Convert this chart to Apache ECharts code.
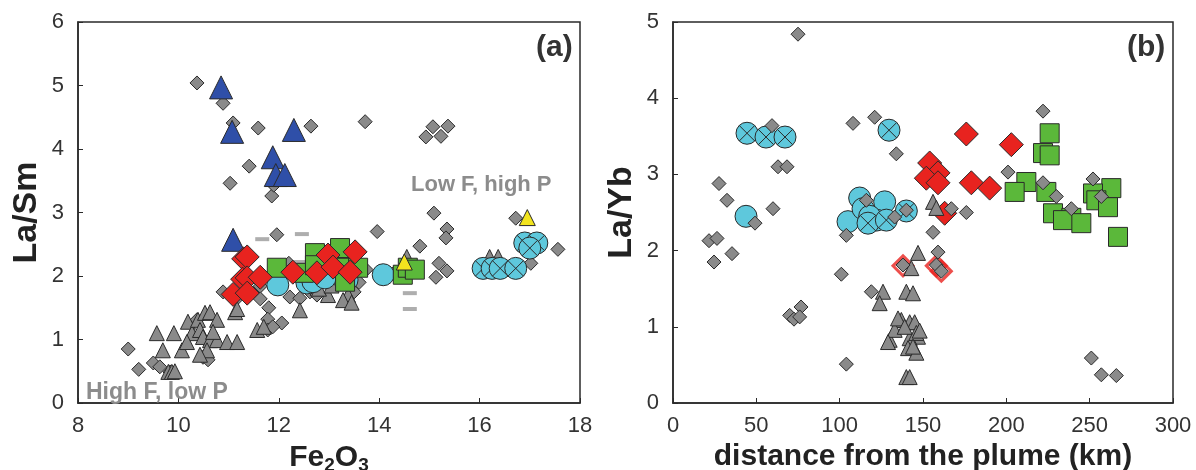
<!DOCTYPE html>
<html>
<head>
<meta charset="utf-8">
<script src="https://cdn.jsdelivr.net/npm/echarts@6/dist/echarts.min.js"></script>
<style>
  html, body { margin: 0; padding: 0; background: #fff; }
  #chart { width: 1196px; height: 470px; }
</style>
</head>
<body>
<div id="chart"></div>
<script>
// panel (a): Fe2O3 vs La/Sm
const aTicksX = [8, 10, 12, 14, 16, 18]
const aGrayDiamond = [
  [10.37,5.04],[10.89,4.72],[11.09,4.41],[11.59,4.33],[12.64,4.36],[11.41,3.73],[11.03,3.46],[11.86,3.26],[11.9,3.43],
  [13.72,4.43],[14.93,4.19],[15.07,4.35],[15.23,4.2],[15.37,4.36],[15.09,2.99],[16.72,2.91],[13.96,2.7],[15.35,2.74],
  [15.33,2.6],[14.81,2.47],[15.19,2.2],[15.35,2.08],[15.13,1.98],[17.02,2.2],[17.56,2.42],[11.96,2.65],
  [9.0,0.85],[9.21,0.53],[9.5,0.63],[9.63,0.57],[9.83,0.49],[10.89,1.75],[11.17,1.65],[11.63,1.84],[11.63,1.64],
  [11.8,1.5],[11.78,1.32],[11.78,1.15],[12.06,1.26],[11.88,1.2],[12.22,1.67],[12.42,1.65],[12.62,1.75],[12.76,1.7],
  [10.49,0.72],[10.59,0.68],[10.37,1.31],[12.2,2.2],[13.5,1.75],[13.6,1.9],[13.74,2.1],[14.3,2.05]
]
const aGrayTriangle = [
  [9.57,1.1],[9.91,1.1],[9.69,0.83],[10.07,0.83],[9.8,0.49],[9.87,0.49],[9.93,0.5],[10.19,1.28],[10.27,1.1],
  [10.17,0.96],[10.39,1.31],[10.43,1.15],[10.53,1.42],[10.63,1.43],[10.77,1.31],[10.49,1.04],[10.63,0.99],
  [10.77,0.99],[10.57,0.83],[10.43,0.76],[10.97,0.96],[11.17,0.96],[11.13,1.43],[10.69,1.12],[11.57,1.15],
  [11.7,1.2],[12.42,1.46],[12.98,1.7],[13.38,1.7],[13.28,1.62],[13.45,1.58],[11.17,1.48],[12.8,1.8],[13.05,1.85],
  [14.55,2.3],[16.2,2.3],[16.37,2.3]
]
const aDash = [[11.67,2.58],[12.46,2.66],[12.42,2.22],[14.61,1.73],[14.61,1.48]]
const aBlueTriangle = [[10.85,4.97],[11.07,4.27],[12.3,4.3],[11.88,3.87],[11.94,3.59],[12.12,3.59],[11.09,2.57]]
const aCyanCircle = [[11.98,1.86],[12.56,1.89],[12.68,1.91],[12.92,1.97],[13.36,1.94],[14.08,2.02]]
const aCyanCross = [[16.07,2.12],[16.25,2.12],[16.41,2.12],[16.72,2.12],[16.9,2.52],[17.14,2.52],[17.0,2.44]]
const aGreenSquare = [
  [11.96,2.13],[12.5,2.05],[12.72,2.36],[12.72,2.17],[13.2,2.25],[13.22,2.44],[13.28,2.13],[13.32,1.91],
  [13.58,2.13],[14.47,2.02],[14.57,2.13],[14.71,2.1]
]
const aYellow = [[14.5,2.22],[16.95,2.92]]
const aRedDiamond = [
  [11.3,2.27],[11.37,2.3],[11.28,1.95],[11.37,1.97],[11.63,1.98],[11.09,1.71],[11.37,1.73],[12.28,2.06],
  [12.76,2.05],[12.98,2.33],[13.08,2.14],[13.52,2.38],[13.42,2.06]
]

// panel (b): distance from the plume vs La/Yb
const bGrayDiamond = [
  [75,4.84],[59.4,3.64],[63,3.1],[68.4,3.1],[27.6,2.88],[32.4,2.66],[60,2.55],[49.2,2.36],[108,3.67],[121,3.75],
  [134,3.27],[116,2.66],[133,2.44],[140,2.53],[21.6,2.13],[26.4,2.16],[24.6,1.85],[35.4,1.96],[104,2.2],[101,1.69],
  [119,1.46],[70,1.15],[72.6,1.1],[76.8,1.26],[76,1.13],[104,0.51],[222,3.83],[201,3.03],[222,2.89],[230,2.71],
  [252,2.94],[257,2.71],[239,2.55],[167,2.55],[176,2.5],[156,2.24],[159,1.98],[251,0.59],[257,0.37],[266,0.36],
  [138,1.81],[158,1.81],[161,1.73]
]
const bRedOutline = [[138,1.8],[158,1.8],[161,1.73]]
const bGrayTriangle = [
  [147,1.97],[143,1.77],[140,1.46],[144,1.44],[137,1.09],[142,1.06],[145,1.06],[147,0.87],[142,0.85],[141,0.72],
  [146,0.66],[140,0.34],[142,0.34],[126,1.46],[124,1.31],[130,0.83],[133,0.96],[135,1.11],[129,0.8],[146,0.92],
  [144,0.74],[148,0.95],[139,1.0],[156,2.64],[158,2.56]
]
const bCyanCircle = [[43.8,2.45],[112,2.69],[127,2.64],[105,2.38],[114,2.55],[122,2.4],[118,2.45]]
const bCyanCross = [[44.4,3.54],[55.8,3.49],[67.2,3.49],[129.6,3.58],[140,2.52],[117,2.36],[128,2.4]]
const bRedDiamond = [[176,3.53],[203,3.39],[154,3.15],[159,3.02],[152,2.95],[159,2.89],[179,2.89],[190,2.82],[163,2.49]]
const bGreenSquare = [
  [226,3.54],[222,3.28],[226,3.25],[212,2.9],[205,2.77],[224,2.77],[263,2.82],[252,2.75],[254,2.66],[261,2.57],
  [228,2.49],[239,2.43],[234,2.4],[245,2.36],[267,2.18]
]

const FONT = '"Liberation Sans", Arial, sans-serif'
const EDGE = '#2a2a2a'
const CROSS_CIRCLE = 'path://M10,0A10,10,0,1,1,10,20A10,10,0,1,1,10,0ZM2.93,2.93L17.07,17.07M17.07,2.93L2.93,17.07'

function pts(data, idx, symbol, size, color, extra) {
  return Object.assign({
    type: 'scatter', xAxisIndex: idx, yAxisIndex: idx, data: data,
    symbol: symbol, symbolSize: size, animation: false,
    itemStyle: { color: color, borderColor: EDGE, borderWidth: 1, opacity: 1 },
    emphasis: { disabled: true }
  }, extra || {})
}

function xAxis(idx, min, max, step, name) {
  return {
    gridIndex: idx, type: 'value', min: min, max: max, interval: step,
    axisLine: { onZero: false, lineStyle: { color: EDGE, width: 1.5 } },
    axisTick: { inside: true, length: 5, lineStyle: { color: EDGE } },
    splitLine: { show: false },
    axisLabel: { fontSize: 22, color: '#333', fontFamily: FONT, margin: 12 },
    name: name, nameLocation: 'middle', nameGap: 38,
    nameTextStyle: {
      fontSize: 30, fontWeight: 'bold', color: '#222', fontFamily: FONT,
      rich: {
        b: { fontSize: 30, fontWeight: 'bold', color: '#222', fontFamily: FONT, lineHeight: 34 },
        s: { fontSize: 19, fontWeight: 'bold', color: '#222', fontFamily: FONT, lineHeight: 16, verticalAlign: 'bottom' }
      }
    }
  }
}

function yAxis(idx, min, max, name) {
  return {
    gridIndex: idx, type: 'value', min: min, max: max, interval: 1,
    axisLine: { onZero: false, lineStyle: { color: EDGE, width: 1.5 } },
    axisTick: { inside: true, length: 5, lineStyle: { color: EDGE } },
    splitLine: { show: false },
    axisLabel: { fontSize: 22, color: '#333', fontFamily: FONT, margin: 14 },
    name: name, nameLocation: 'middle', nameGap: 34,
    nameTextStyle: { fontSize: 34, fontWeight: 'bold', color: '#222', fontFamily: FONT }
  }
}

function label(text, left, top, size, color) {
  return { type: 'text', left: left, top: top, z: 100,
    style: { text: text, font: 'bold ' + size + 'px ' + FONT, fill: color } }
}

let chart = echarts.init(document.getElementById('chart'), null, { renderer: 'canvas' })
chart.setOption({
  backgroundColor: '#fff',
  grid: [
    { left: 78, top: 22, width: 502, height: 381, show: true, borderColor: EDGE, borderWidth: 1.5,
      containLabel: false, outerBoundsMode: 'none' },
    { left: 673, top: 22, width: 500, height: 381, show: true, borderColor: EDGE, borderWidth: 1.5,
      containLabel: false, outerBoundsMode: 'none' }
  ],
  xAxis: [
    xAxis(0, aTicksX[0], aTicksX[aTicksX.length - 1], 2, '{b|Fe}{s|2}{b|O}{s|3}'),
    xAxis(1, 0, 300, 50, 'distance from the plume (km)')
  ],
  yAxis: [yAxis(0, 0, 6, 'La/Sm'), yAxis(1, 0, 5, 'La/Yb')],
  graphic: [
    label('High F, low P', 86, 381, 23, '#8c8c8c'),
    label('Low F, high P', 411, 174, 22, '#8c8c8c'),
    label('(a)', 536, 33, 30, '#333'),
    label('(b)', 1127, 33, 30, '#333')
  ],
  series: [
    pts(aGrayDiamond, 0, 'diamond', 14, '#8a8a8a'),
    pts(aGrayTriangle, 0, 'triangle', 15, '#8a8a8a'),
    pts(aDash, 0, 'rect', [14, 4], '#9a9a9a', { itemStyle: { color: '#9a9a9a', borderWidth: 0 } }),
    pts(aCyanCircle, 0, 'circle', 22, '#5ec8dc'),
    pts(aCyanCross, 0, CROSS_CIRCLE, 22, '#5ec8dc'),
    pts(aGreenSquare, 0, 'rect', 19, '#5bb83a'),
    pts(aBlueTriangle, 0, 'triangle', 23, '#2f4fa8'),
    pts(aYellow, 0, 'triangle', 16, '#f2e41e'),
    pts(aRedDiamond, 0, 'diamond', 24, '#e8231f'),

    pts(bCyanCircle, 1, 'circle', 22, '#5ec8dc'),
    pts(bCyanCross, 1, CROSS_CIRCLE, 22, '#5ec8dc'),
    pts(bGreenSquare, 1, 'rect', 19, '#5bb83a'),
    pts(bRedDiamond, 1, 'diamond', 24, '#e8231f'),
    pts(bRedOutline, 1, 'diamond', 20, '#8a8a8a', { itemStyle: { color: 'rgba(0,0,0,0)', borderColor: '#e8231f', borderWidth: 3 } }),
    pts(bGrayTriangle, 1, 'triangle', 15, '#8a8a8a'),
    pts(bGrayDiamond, 1, 'diamond', 14, '#8a8a8a')
  ]
})
</script>
</body>
</html>
